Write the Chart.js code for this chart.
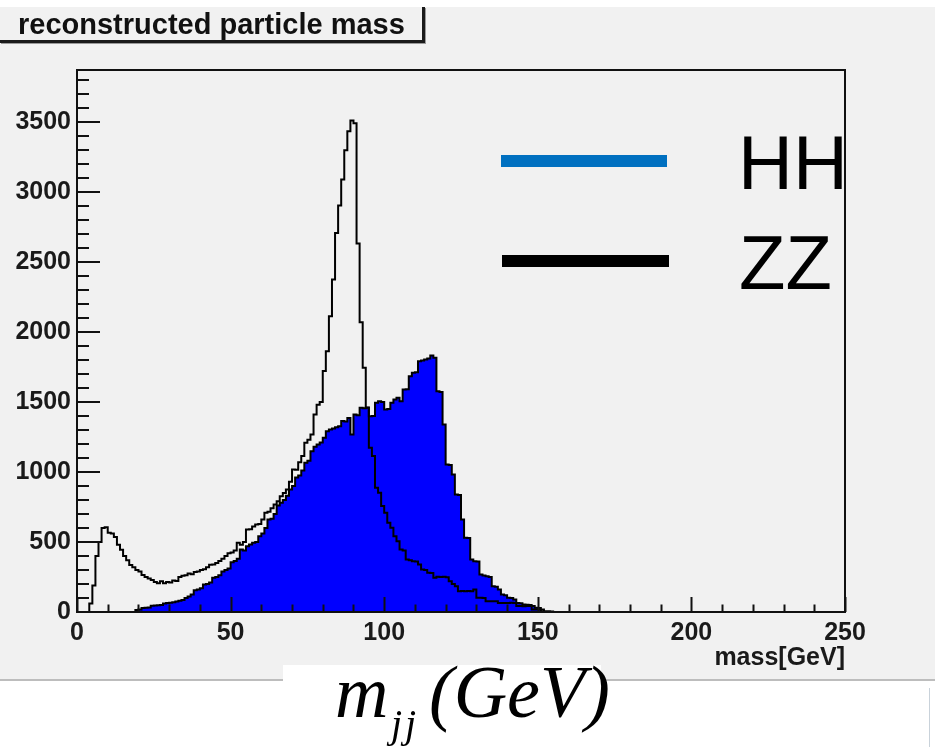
<!DOCTYPE html>
<html>
<head>
<meta charset="utf-8">
<script src="https://cdn.jsdelivr.net/npm/chart.js@4.4.1/dist/chart.umd.min.js"></script>
<style>
  html, body { margin: 0; padding: 0; background: #fff; }
  body { width: 935px; height: 747px; position: relative; overflow: hidden; font-family: "Liberation Sans", Arial, sans-serif; }
  #panel { position: absolute; left: 0; top: 7px; width: 935px; height: 672px; background: #f1f1f1; border-bottom: 2px solid #bdbdbd; }
  #wrap { position: absolute; left: 0; top: 0; width: 935px; height: 680px; }
  #title-box {
    position: absolute; left: 0; top: 7px; width: 425px; height: 36px;
    background: #f1f1f1; border-right: 3px solid #1a1a1a; border-bottom: 3px solid #1a1a1a;
    box-shadow: 1px 1px 0 #9a9a9a; box-sizing: border-box;
    font: bold 29px "Liberation Sans", Arial, sans-serif; line-height: 35px; color: #111;
    padding-left: 18px; white-space: nowrap;
  }
  .leg-line { position: absolute; height: 12px; }
  .leg-text { position: absolute; font: 76px "Liberation Sans", Arial, sans-serif; line-height: 76px; color: #000; }
  #mjj { position: absolute; left: 283px; top: 665px; width: 318px; height: 82px; background: #fff; }
  #mjj span { position: absolute; font-family: "Liberation Serif", "Times New Roman", serif; font-style: italic; color: #000; white-space: nowrap; }
  #mjj .big { font-size: 74px; line-height: 74px; top: -10px; }
  #mjj .sub { font-size: 40px; line-height: 40px; top: 39px; left: 108px; letter-spacing: 3px; }
  #edge { position: absolute; left: 929px; top: 688px; width: 1px; height: 59px; background: #c9d2da; }
</style>
</head>
<body>
<div id="panel"></div>
<div id="wrap"><canvas id="massChart"></canvas></div>
<div id="title-box">reconstructed particle mass</div>

<div class="leg-line" style="left:501px; top:155px; width:166px; background:#0070c0;"></div>
<div class="leg-text" style="left:738px; top:125px;">HH</div>
<div class="leg-line" style="left:502px; top:255px; width:167px; background:#000;"></div>
<div class="leg-text" style="left:739px; top:225px;">ZZ</div>

<div id="mjj">
  <span class="big" style="left:52px;">m</span>
  <span class="sub">jj</span>
  <span class="big" style="left:146px;">(GeV)</span>
</div>
<div id="edge"></div>

<script>
// histogram: 1 GeV bins starting at 0 GeV
const binWidth = 1;

// HH (filled blue), entries per bin, bins 0..159
const hhCounts = [
  0, 0, 0, 0, 0, 0, 0, 0, 0, 0,
  0, 0, 0, 0, 0, 0, 0, 0, 0, 0,
  15, 18, 28, 30, 32, 44, 46, 48, 50, 60,
  65, 66, 70, 75, 80, 85, 100, 110, 125, 155,
  161, 170, 196, 200, 210, 244, 250, 262, 290, 300,
  310, 356, 365, 380, 446, 440, 470, 482, 495, 500,
  540, 560, 600, 660, 665, 700, 760, 780, 800, 830,
  875, 900, 960, 975, 1010, 1065, 1080, 1148, 1180, 1196,
  1210, 1244, 1290, 1303, 1310, 1320, 1327, 1363, 1360, 1386,
  1267, 1410, 1405, 1458, 1455, 1460, 1398, 1400, 1494, 1505,
  1500, 1446, 1450, 1494, 1517, 1529, 1505, 1589, 1590, 1684,
  1708, 1712, 1791, 1795, 1803, 1810, 1831, 1815, 1577, 1570,
  1339, 1053, 1050, 982, 839, 835, 660, 530, 528, 375,
  363, 360, 268, 260, 256, 250, 184, 180, 160, 125,
  120, 101, 100, 90, 65, 62, 54, 52, 50, 42,
  30, 28, 6, 6, 5, 4, 0, 0, 0, 0
];

// ZZ (black outline), entries per bin, bins 0..159
const zzCounts = [
  0, 0, 0, 0, 0, 60, 190, 400, 500, 600,
  605, 565, 560, 535, 480, 445, 400, 370, 335, 320,
  300, 290, 265, 250, 240, 228, 215, 205, 220, 205,
  215, 210, 225, 222, 250, 258, 262, 275, 270, 285,
  289, 300, 305, 320, 337, 340, 350, 365, 380, 400,
  420, 425, 440, 494, 480, 500, 589, 590, 610, 625,
  628, 660, 708, 715, 740, 768, 790, 827, 850, 875,
  930, 1018, 1015, 1070, 1113, 1208, 1230, 1268, 1410, 1480,
  1500, 1720, 1862, 2112, 2374, 2707, 2902, 3088, 3297, 3433,
  3509, 3490, 2631, 2069, 1744, 1458, 1172, 1113, 887, 851,
  756, 708, 637, 601, 541, 506, 446, 440, 375, 370,
  363, 360, 339, 303, 300, 280, 278, 244, 251, 250,
  252, 248, 220, 200, 184, 149, 150, 148, 150, 149,
  161, 101, 101, 100, 77, 77, 76, 77, 65, 65,
  64, 65, 66, 65, 42, 42, 41, 42, 42, 18,
  18, 17, 18, 0, 0, 0, 0, 0, 0, 0
];

// axis ranges, tick labels and minor tick steps
const xRange = [0, 250];
const yRange = [0, 3870];
const xTicks = [0, 50, 100, 150, 200, 250];
const yTicks = [0, 500, 1000, 1500, 2000, 2500, 3000, 3500];
const xMinorStep = 10;
const yMinorStep = 100;

// turn bin contents into step points (value held until the next bin edge)
function toSteps(counts) {
  const pts = counts.map((v, i) => ({ x: i * binWidth, y: v }));
  pts.push({ x: counts.length * binWidth, y: 0 });
  return pts;
}

const labelFont = { family: '"Liberation Sans", Arial, sans-serif', size: 25, weight: 'bold' };

// ROOT-style frame with ticks drawn inside the plot
const rootFrame = {
  id: 'rootFrame',
  afterDatasetsDraw(chart) {
    const { ctx, chartArea: a, scales: { x, y } } = chart;
    ctx.save();
    ctx.strokeStyle = '#111';
    ctx.lineWidth = 2;
    ctx.beginPath();
    for (let v = xRange[0]; v <= xRange[1]; v += xMinorStep) {
      const px = Math.round(x.getPixelForValue(v)) + 0.5;
      const len = xTicks.includes(v) ? 15 : 7.5;
      ctx.moveTo(px, a.bottom);
      ctx.lineTo(px, a.bottom - len);
    }
    for (let v = yRange[0]; v <= yRange[1]; v += yMinorStep) {
      const py = Math.round(y.getPixelForValue(v));
      const len = yTicks.includes(v) ? 23 : 12;
      ctx.moveTo(a.left, py);
      ctx.lineTo(a.left + len, py);
    }
    ctx.stroke();
    ctx.strokeRect(a.left, a.top, a.right - a.left, a.bottom - a.top);
    ctx.restore();
  }
};

const massCtx = document.getElementById('massChart').getContext('2d');
const massChart = new Chart(massCtx, {
  type: 'line',
  data: {
    datasets: [
      {
        label: 'ZZ',
        data: toSteps(zzCounts),
        stepped: 'after',
        borderColor: '#000',
        borderWidth: 2,
        pointRadius: 0,
        fill: false,
        order: 0
      },
      {
        label: 'HH',
        data: toSteps(hhCounts),
        stepped: 'after',
        borderColor: '#000',
        borderWidth: 2,
        backgroundColor: '#0000ff',
        pointRadius: 0,
        fill: 'origin',
        order: 1
      }
    ]
  },
  options: {
    responsive: true,
    maintainAspectRatio: false,
    animation: false,
    layout: { padding: { left: 0, top: 70, right: 90, bottom: 0 } },
    plugins: {
      legend: { display: false },
      tooltip: { enabled: false }
    },
    scales: {
      x: {
        type: 'linear',
        min: xRange[0],
        max: xRange[1],
        grid: { display: false, drawTicks: false },
        border: { display: false },
        afterBuildTicks: (s) => { s.ticks = xTicks.map(v => ({ value: v })); },
        ticks: {
          padding: 6,
          color: '#1a1a1a',
          font: labelFont,
          maxRotation: 0,
          autoSkip: false,
          callback: (v) => String(v)
        },
        title: {
          display: true,
          text: 'mass[GeV]',
          align: 'end',
          color: '#1a1a1a',
          font: labelFont,
          padding: { top: 0, bottom: 7 }
        },
        afterFit: (s) => { s.height = 68; }
      },
      y: {
        type: 'linear',
        min: yRange[0],
        max: yRange[1],
        grid: { display: false, drawTicks: false },
        border: { display: false },
        afterBuildTicks: (s) => { s.ticks = yTicks.map(v => ({ value: v })); },
        ticks: {
          padding: 6,
          color: '#1a1a1a',
          font: labelFont,
          autoSkip: false,
          callback: (v) => String(v)
        },
        afterFit: (s) => { s.width = 77; }
      }
    }
  },
  plugins: [rootFrame]
});
</script>
</body>
</html>
